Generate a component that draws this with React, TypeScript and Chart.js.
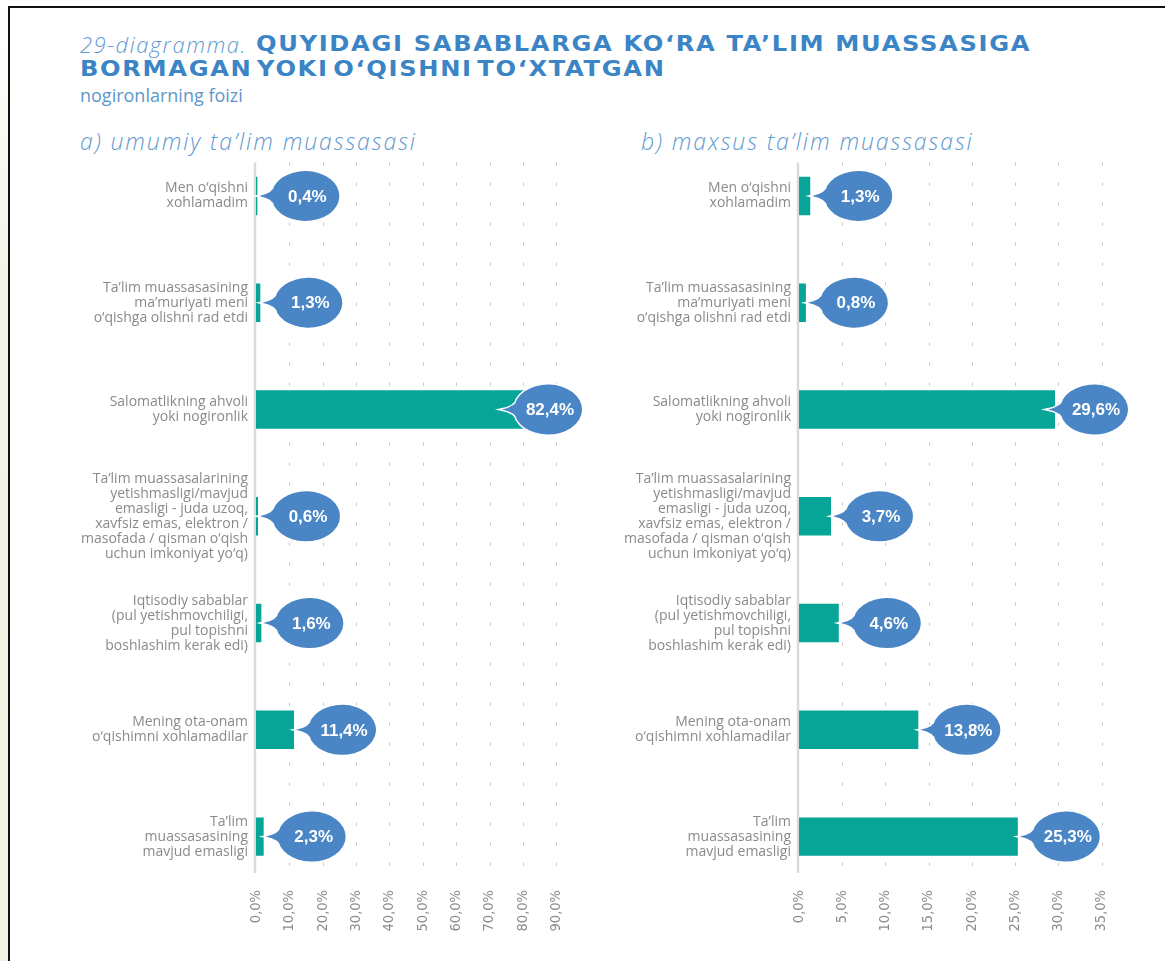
import React, { useEffect, useRef } from "react";
import { Chart, registerables } from "chart.js";

Chart.register(...registerables);

// ---------------- data ----------------
const categories: string[][] = [
  ["Men o‘qishni", "xohlamadim"],
  ["Ta’lim muassasasining", "ma’muriyati meni", "o‘qishga olishni rad etdi"],
  ["Salomatlikning ahvoli", "yoki nogironlik"],
  [
    "Ta’lim muassasalarining",
    "yetishmasligi/mavjud",
    "emasligi - juda uzoq,",
    "xavfsiz emas, elektron /",
    "masofada / qisman o‘qish",
    "uchun imkoniyat yo‘q)",
  ],
  ["Iqtisodiy sabablar", "(pul yetishmovchiligi,", "pul topishni", "boshlashim kerak edi)"],
  ["Mening ota-onam", "o‘qishimni xohlamadilar"],
  ["Ta’lim", "muassasasining", "mavjud emasligi"],
];

const generalValues: number[] = [0.4, 1.3, 82.4, 0.6, 1.6, 11.4, 2.3];
const specialValues: number[] = [1.3, 0.8, 29.6, 3.7, 4.6, 13.8, 25.3];

const generalTicks: number[] = [0, 10, 20, 30, 40, 50, 60, 70, 80, 90];
const generalTickLabels: string[] = ["0,0%", "10,0%", "20,0%", "30,0%", "40,0%", "50,0%", "60,0%", "70,0%", "80,0%", "90,0%"];
const specialTicks: number[] = [0, 5, 10, 15, 20, 25, 30, 35];
const specialTickLabels: string[] = ["0,0%", "5,0%", "10,0%", "15,0%", "20,0%", "25,0%", "30,0%", "35,0%"];

const titleLead = "29-diagramma.";
const titleLine1 = "QUYIDAGI SABABLARGA KO‘RA TA’LIM MUASSASIGA";
const titleLine2 = "BORMAGAN YOKI O‘QISHNI TO‘XTATGAN";
const titleLine3 = "nogironlarning foizi";
const panelTitleA = "a) umumiy ta’lim muassasasi";
const panelTitleB = "b) maxsus ta’lim muassasasi";

// ---------------- helpers ----------------
const fmt = (v: number) => v.toFixed(1).replace(".", ",") + "%";

const BAR = "#06a597";
const BUBBLE = "#4a86c6";

const gridPlugin = {
  id: "dotGrid",
  beforeDatasetsDraw(chart: any) {
    const { ctx, chartArea } = chart;
    const xs = chart.scales.x;
    const top = chartArea.top + 20;
    const bottom = chartArea.bottom - 17;
    ctx.save();
    ctx.strokeStyle = "#c6c6c6";
    ctx.lineWidth = 1;
    ctx.setLineDash([3, 17]);
    xs.ticks.forEach((t: any) => {
      if (t.value === 0) return;
      const x = Math.round(xs.getPixelForValue(t.value)) + 0.5;
      ctx.beginPath();
      ctx.moveTo(x, top);
      ctx.lineTo(x, bottom);
      ctx.stroke();
    });
    ctx.setLineDash([]);
    ctx.strokeStyle = "#dadada";
    ctx.lineWidth = 2.5;
    const x0 = xs.getPixelForValue(0) - 1;
    ctx.beginPath();
    ctx.moveTo(x0, top);
    ctx.lineTo(x0, bottom);
    ctx.stroke();
    ctx.restore();
  },
};

const bubblePlugin = {
  id: "valueBubbles",
  afterDatasetsDraw(chart: any) {
    const { ctx, chartArea } = chart;
    const meta = chart.getDatasetMeta(0);
    const data = chart.data.datasets[0].data as number[];
    const rx = 34;
    const ry = 25;
    meta.data.forEach((bar: any, i: number) => {
      const endX = bar.x;
      const cy = bar.y;
      const cx = Math.min(endX + 48, chartArea.right - 25);
      const tipX = cx - rx - 12;
      const a1 = Math.PI + 0.42;
      const a2 = Math.PI - 0.42 + Math.PI * 2;
      ctx.save();
      ctx.beginPath();
      ctx.moveTo(tipX, cy);
      ctx.quadraticCurveTo(cx - rx + 2, cy - 3, cx + rx * Math.cos(a1), cy + ry * Math.sin(a1));
      ctx.ellipse(cx, cy, rx, ry, 0, a1, a2, false);
      ctx.quadraticCurveTo(cx - rx + 2, cy + 3, tipX, cy);
      ctx.closePath();
      ctx.lineWidth = 3;
      ctx.strokeStyle = "#ffffff";
      ctx.stroke();
      ctx.fillStyle = BUBBLE;
      ctx.fill();
      ctx.fillStyle = "#ffffff";
      ctx.font = 'bold 17px "Liberation Sans", Arial, sans-serif';
      ctx.textAlign = "center";
      ctx.textBaseline = "middle";
      ctx.fillText(fmt(data[i]), cx + 2, cy + 1);
      ctx.restore();
    });
  },
};

type PanelProps = {
  values: number[];
  tickValues: number[];
  tickLabels: string[];
  max: number;
  left: number;
  width: number;
  yWidth: number;
};

function BarPanel({ values, tickValues, tickLabels, max, left, width, yWidth }: PanelProps) {
  const ref = useRef<HTMLCanvasElement | null>(null);
  const top = 100;
  const height = 840;
  useEffect(() => {
    if (!ref.current) return;
    const chart = new Chart(ref.current, {
      type: "bar",
      data: {
        labels: categories,
        datasets: [
          {
            data: values,
            backgroundColor: BAR,
            borderWidth: 0,
            categoryPercentage: 1,
            barPercentage: 0.36,
          },
        ],
      },
      options: {
        indexAxis: "y",
        animation: false,
        responsive: false,
        events: [],
        layout: { padding: { top: 42.6, right: 12, bottom: 0, left: 0 } },
        plugins: { legend: { display: false }, tooltip: { enabled: false }, title: { display: false } },
        scales: {
          x: {
            type: "linear",
            min: 0,
            max,
            grid: { display: false, drawTicks: false },
            border: { display: false },
            afterBuildTicks: (s: any) => {
              s.ticks = tickValues.map((v) => ({ value: v }));
            },
            afterFit: (s: any) => {
              s.height = 50;
            },
            ticks: {
              autoSkip: false,
              minRotation: 90,
              maxRotation: 90,
              padding: 0,
              color: "#8c8c8c",
              font: { family: '"Liberation Sans Narrow", "DejaVu Sans Condensed", "Roboto", sans-serif', size: 14.5 },
              callback: (_v: any, i: number) => tickLabels[i],
            },
          },
          y: {
            type: "category",
            grid: { display: false, drawTicks: false },
            border: { display: false },
            afterFit: (s: any) => {
              s.width = yWidth;
            },
            ticks: {
              autoSkip: false,
              padding: 8,
              color: "#8a8a8a",
              font: { family: '"Open Sans", sans-serif', size: 14, lineHeight: 1.07 },
            },
          },
        },
      } as any,
      plugins: [gridPlugin, bubblePlugin],
    });
    return () => chart.destroy();
  }, []);
  return (
    <canvas
      ref={ref}
      width={width}
      height={height}
      style={{ position: "absolute", left, top, width, height }}
    />
  );
}

const boldTitle: React.CSSProperties = {
  fontFamily: '"DejaVu Sans", sans-serif',
  fontWeight: 800,
  fontSize: 22,
  color: "#3b84c5",
  letterSpacing: 1.5,
  transform: "scaleX(1.1)",
  transformOrigin: "0 50%",
  whiteSpace: "nowrap",
};

export default function App() {
  useEffect(() => {
    document.body.style.margin = "0";
  }, []);
  const lightBlue = "#5f9bd0";
  const subtitle: React.CSSProperties = {
    position: "absolute",
    top: 127,
    whiteSpace: "nowrap",
    lineHeight: "28px",
    fontSize: 23,
    fontStyle: "italic",
    fontWeight: 300,
    letterSpacing: 1.9,
    color: lightBlue,
  };
  return (
    <div
      style={{
        position: "fixed",
        left: 0,
        top: 0,
        width: 1165,
        height: 961,
        background: "#ffffff",
        overflow: "hidden",
        fontFamily: '"Open Sans", sans-serif',
      }}
    >
      <div
        style={{
          position: "absolute",
          left: 0,
          top: 0,
          width: 8,
          height: 961,
          background: "linear-gradient(#ffffff, #f1f5e6 30%, #eef3e2)",
        }}
      />
      <div style={{ position: "absolute", left: 8, top: 6, width: 1157, height: 2, background: "#111" }} />
      <div style={{ position: "absolute", left: 8, top: 6, width: 2, height: 955, background: "#111" }} />

      <div
        style={{
          position: "absolute",
          left: 80,
          top: 31,
          lineHeight: "26px",
          whiteSpace: "nowrap",
          fontStyle: "italic",
          fontWeight: 300,
          fontSize: 22,
          color: lightBlue,
          letterSpacing: 1.5,
        }}
      >
        {titleLead}
      </div>
      <div style={{ position: "absolute", left: 256, top: 31, lineHeight: "26px", ...boldTitle }}>{titleLine1}</div>
      <div style={{ position: "absolute", left: 80, top: 56, lineHeight: "26px", ...boldTitle, wordSpacing: -5 }}>
        {titleLine2}
      </div>
      <div
        style={{
          position: "absolute",
          left: 80,
          top: 83,
          whiteSpace: "nowrap",
          lineHeight: "24px",
          fontSize: 18,
          color: "#5d97c9",
        }}
      >
        {titleLine3}
      </div>
      <div style={{ ...subtitle, left: 80 }}>{panelTitleA}</div>
      <div style={{ ...subtitle, left: 641 }}>{panelTitleB}</div>

      <BarPanel
        values={generalValues}
        tickValues={generalTicks}
        tickLabels={generalTickLabels}
        max={95}
        left={20}
        width={565}
        yWidth={236}
      />
      <BarPanel
        values={specialValues}
        tickValues={specialTicks}
        tickLabels={specialTickLabels}
        max={37}
        left={600}
        width={531}
        yWidth={199}
      />
    </div>
  );
}
